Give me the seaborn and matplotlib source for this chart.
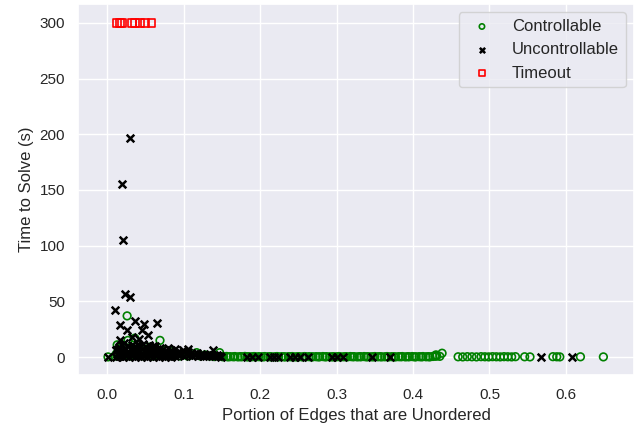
import matplotlib
matplotlib.use("Agg")
import matplotlib.pyplot as plt
import seaborn as sns

# Controllable runs near the origin: (portion unordered, seconds)
ctrl_low_x = [0.001, 0.010, 0.012, 0.013, 0.015, 0.018, 0.020, 0.022, 0.026, 0.027, 0.028, 0.030,
              0.033, 0.036, 0.040, 0.044, 0.048, 0.052, 0.056, 0.060, 0.064, 0.069, 0.072,
              0.076, 0.080, 0.085, 0.090, 0.095, 0.100, 0.105, 0.110, 0.117, 0.122, 0.128,
              0.134, 0.140, 0.147]
ctrl_low_y = [0.2, 1.0, 3.0, 11.0, 5.0, 8.0, 10.0, 2.0, 37.0, 15.0, 6.0, 1.0,
              4.0, 17.0, 2.0, 7.0, 1.0, 3.0, 9.0, 1.0, 4.0, 15.0, 2.0,
              6.0, 1.0, 5.0, 2.0, 1.0, 3.0, 1.0, 2.0, 4.0, 1.0, 2.0,
              1.0, 0.5, 4.0]

# Controllable runs along the floor, 0.15 .. 0.44
ctrl_band_x = [0.150, 0.152, 0.156, 0.158, 0.161, 0.165, 0.167, 0.171, 0.174, 0.176,
               0.180, 0.183, 0.185, 0.189, 0.192, 0.194, 0.198, 0.201, 0.204, 0.206,
               0.210, 0.213, 0.215, 0.219, 0.222, 0.224, 0.228, 0.231, 0.233, 0.237,
               0.240, 0.242, 0.246, 0.249, 0.251, 0.255, 0.258, 0.260, 0.264, 0.267,
               0.269, 0.273, 0.276, 0.278, 0.282, 0.285, 0.287, 0.291, 0.294, 0.296,
               0.300, 0.303, 0.305, 0.309, 0.312, 0.314, 0.318, 0.321, 0.323, 0.327,
               0.330, 0.332, 0.336, 0.339, 0.341, 0.345, 0.348, 0.350, 0.354, 0.357,
               0.359, 0.363, 0.366, 0.368, 0.372, 0.375, 0.377, 0.381, 0.384, 0.386,
               0.390, 0.393, 0.395, 0.399, 0.402, 0.404, 0.408, 0.411, 0.413, 0.417,
               0.420, 0.422, 0.426, 0.429, 0.431, 0.435, 0.430, 0.438]
ctrl_band_y = [0.5, 0.3, 0.6, 0.2, 0.4, 0.3, 0.5, 0.2, 0.4, 0.3,
               0.6, 0.2, 0.4, 0.3, 0.5, 0.2, 0.4, 0.3, 0.2, 0.5,
               0.3, 0.4, 0.2, 0.3, 0.5, 0.2, 0.4, 0.3, 0.2, 0.4,
               0.3, 0.5, 0.2, 0.3, 0.4, 0.2, 0.5, 0.3, 0.4, 0.2,
               0.3, 0.4, 0.2, 0.3, 0.5, 0.2, 0.4, 0.3, 0.2, 0.4,
               0.3, 0.5, 0.2, 0.3, 0.4, 0.2, 0.5, 0.3, 0.4, 0.2,
               0.4, 0.3, 0.5, 0.2, 0.4, 0.3, 0.2, 0.5, 0.3, 0.4,
               0.2, 0.3, 0.5, 0.2, 0.4, 0.3, 0.2, 0.4, 0.3, 0.5,
               0.2, 0.4, 0.3, 0.5, 0.2, 0.3, 0.4, 0.2, 0.5, 0.3,
               0.4, 0.2, 0.6, 0.8, 1.0, 0.7, 2.0, 3.5]

# Sparse controllable runs beyond 0.45
ctrl_far_x = [0.459, 0.465, 0.471, 0.477, 0.483, 0.489, 0.494, 0.499, 0.504, 0.509, 0.514,
              0.519, 0.524, 0.529, 0.534, 0.546, 0.553, 0.583, 0.588, 0.592, 0.619, 0.649]
ctrl_far_y = [0.3, 0.2, 0.4, 0.3, 0.2, 0.4, 0.3, 0.2, 0.4, 0.3, 0.2,
              0.4, 0.3, 0.2, 0.4, 0.3, 0.2, 0.4, 0.3, 0.2, 0.3, 0.2]

# Uncontrollable runs: the tall outliers
unc_high_x = [0.030, 0.019, 0.021, 0.023, 0.030, 0.010, 0.017, 0.036, 0.048, 0.065, 0.026,
              0.045, 0.053, 0.017, 0.106, 0.138, 0.040, 0.032, 0.060, 0.022, 0.042, 0.012]
unc_high_y = [197.0, 155.0, 105.0, 57.0, 54.0, 42.0, 29.0, 32.0, 30.0, 31.0, 24.0,
              24.0, 20.0, 15.0, 7.0, 6.0, 12.0, 18.0, 10.0, 13.0, 16.0, 6.0]

# Uncontrollable runs: dense cluster under 0.15
unc_low_x = [0.001,
             0.011, 0.013, 0.015, 0.017, 0.019, 0.021, 0.023, 0.025, 0.027, 0.029,
             0.031, 0.033, 0.035, 0.037, 0.039, 0.041, 0.043, 0.045, 0.047, 0.049,
             0.051, 0.053, 0.055, 0.057, 0.059, 0.061, 0.063, 0.065, 0.067, 0.069,
             0.071, 0.073, 0.075, 0.077, 0.079, 0.081, 0.083, 0.085, 0.087, 0.089,
             0.091, 0.093, 0.095, 0.097, 0.099, 0.101, 0.103, 0.105, 0.107, 0.109,
             0.111, 0.113, 0.115, 0.117, 0.119, 0.121, 0.123, 0.125, 0.127, 0.129,
             0.131, 0.133, 0.135, 0.137, 0.139, 0.141, 0.143, 0.145, 0.147, 0.149,
             0.012, 0.016, 0.020, 0.024, 0.028, 0.032, 0.036, 0.040, 0.044, 0.048,
             0.052, 0.056, 0.060, 0.064, 0.068, 0.072, 0.076, 0.080, 0.084, 0.088,
             0.014, 0.018, 0.022, 0.026, 0.034, 0.038, 0.046, 0.054, 0.058, 0.062]
unc_low_y = [0.3,
             6.0, 3.0, 9.0, 1.0, 11.0, 4.0, 8.0, 2.0, 10.0, 5.0,
             3.0, 11.0, 6.0, 9.0, 4.0, 10.0, 2.0, 7.0, 12.0, 5.0,
             9.0, 4.0, 11.0, 2.0, 7.0, 5.0, 10.0, 3.0, 6.0, 8.0,
             4.0, 7.0, 2.0, 5.0, 8.0, 3.0, 6.0, 1.0, 4.0, 7.0,
             3.0, 5.0, 2.0, 4.0, 6.0, 1.0, 3.0, 5.0, 2.0, 4.0,
             1.0, 3.0, 2.0, 4.0, 1.0, 2.0, 3.0, 1.0, 2.0, 1.0,
             2.0, 1.0, 3.0, 1.0, 2.0, 1.0, 2.0, 1.0, 1.0, 0.5,
             0.5, 1.0, 0.5, 1.0, 0.5, 1.0, 0.5, 1.0, 0.5, 1.0,
             0.5, 1.0, 0.5, 1.0, 0.5, 1.0, 0.5, 1.0, 0.5, 1.0,
             7.0, 5.0, 7.0, 4.0, 8.0, 6.0, 4.0, 7.0, 4.0, 6.0]

# Uncontrollable runs along the floor past 0.15
unc_far_x = [0.183, 0.189, 0.197, 0.213, 0.218, 0.223, 0.239, 0.245, 0.252, 0.262, 0.294,
             0.300, 0.308, 0.346, 0.370, 0.567, 0.608]
unc_far_y = [0.3, 0.3, 0.3, 0.3, 0.3, 0.3, 0.3, 0.3, 0.3, 0.3, 0.3,
             0.3, 0.3, 0.3, 0.3, 0.3, 0.3]

# Runs that hit the time limit
tout_x = [0.013, 0.017, 0.019, 0.032, 0.036, 0.043, 0.049, 0.058]
tout_y = [300, 300, 300, 300, 300, 300, 300, 300]

ctrl_x = ctrl_low_x + ctrl_band_x + ctrl_far_x
ctrl_y = ctrl_low_y + ctrl_band_y + ctrl_far_y
unc_x = unc_high_x + unc_low_x + unc_far_x
unc_y = unc_high_y + unc_low_y + unc_far_y

sns.set_theme(style="darkgrid")
plt.rcParams["font.family"] = ["Liberation Sans", "DejaVu Sans"]

fig, ax = plt.subplots(figsize=(6.41, 4.29), dpi=100)
fig.subplots_adjust(left=0.122, right=0.989, top=0.991, bottom=0.126)

sns.scatterplot(x=ctrl_x, y=ctrl_y, marker="o", s=30, color="green",
                facecolor="none", edgecolor="green", linewidth=1.2,
                label="Controllable", ax=ax)
sns.scatterplot(x=unc_x, y=unc_y, marker="x", s=30, color="black",
                linewidth=1.8, label="Uncontrollable", ax=ax)
sns.scatterplot(x=tout_x, y=tout_y, marker="s", s=30, color="red",
                facecolor="none", edgecolor="red", linewidth=1.2,
                label="Timeout", ax=ax)

ax.set_xlim(-0.038, 0.689)
ax.set_ylim(-16, 317)
ax.set_xlabel("Portion of Edges that are Unordered")
ax.set_ylabel("Time to Solve (s)")
ax.legend(loc="upper right", markerscale=0.7, fontsize=12)

fig.savefig("out.png", dpi=100)
